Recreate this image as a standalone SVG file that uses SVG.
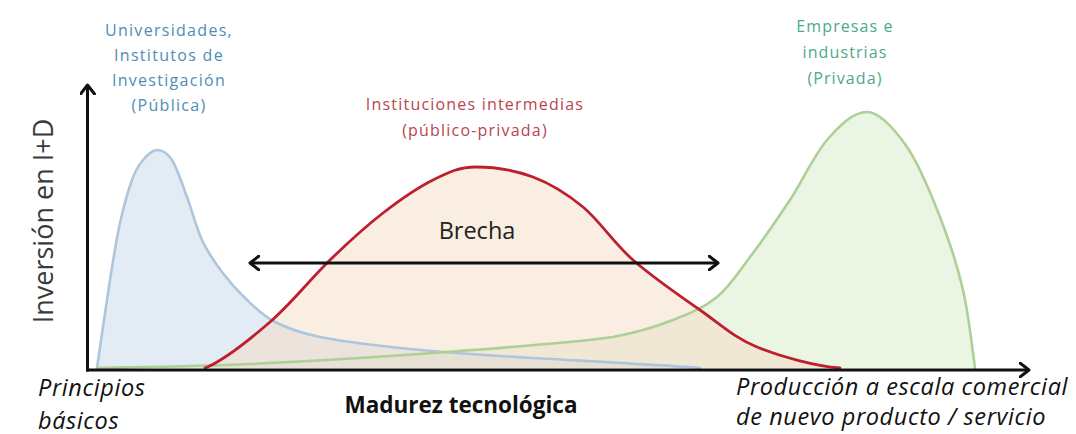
<svg xmlns="http://www.w3.org/2000/svg" width="1076" height="434" viewBox="0 0 1076 434">
  <style>
    .lblBlue { font-family: "Open Sans", "Liberation Sans", sans-serif; font-size: 16px; fill: #4f8db3; text-anchor: middle; letter-spacing: 1.3px; }
    .lblRed { font-family: "Open Sans", "Liberation Sans", sans-serif; font-size: 16px; fill: #b8454f; text-anchor: middle; letter-spacing: 1.2px; }
    .lblGreen { font-family: "Open Sans", "Liberation Sans", sans-serif; font-size: 16px; fill: #4ea98a; text-anchor: middle; letter-spacing: 1.1px; }
    .ital { font-family: "Open Sans", "Liberation Sans", sans-serif; font-size: 23.5px; font-style: italic; fill: #111; letter-spacing: 0.6px; }
    .axis { stroke: #111; stroke-width: 3; fill: none; }
    .arrow { stroke: #111; stroke-width: 3; fill: none; }
  </style>
  <defs>
    <marker id="chev" viewBox="0 0 12 16" refX="10" refY="8" markerWidth="12" markerHeight="16" markerUnits="userSpaceOnUse" orient="auto-start-reverse">
      <path d="M1,1 L10,8 L1,15" fill="none" stroke="#111" stroke-width="3" stroke-linecap="round" stroke-linejoin="round"/>
    </marker>
  </defs>
  <rect width="1076" height="434" fill="#ffffff"/>

  <g id="curve-green">
    <path d="M97,368 C122.5,367.3 191.7,366.7 250,364 C308.3,361.3 386.5,356.5 447,352 C507.5,347.5 575.3,342.3 613,337 C640,332 655.7,326.7 673,320 C690.3,313.3 704.2,307.5 717,297 C729.8,286.5 737.8,273.2 750,257 C762.2,240.8 777.2,219.5 790,200 C802.8,180.5 814.2,154.7 827,140 C839.8,125.3 853,112 867,112 C880,112 894.8,129.5 907,147 C919.2,164.5 930.7,193.2 940,217 C949.3,240.8 957.2,265 963,290 C968.8,315 973,354.2 975,368 Z" fill="#d6ebc9" fill-opacity="0.5" stroke="none"/>
  </g>
  <g id="curve-blue">
    <path d="M97,368 C99.2,353.3 106.2,304.2 110,280 C113.8,255.8 116.3,239.7 120,223 C123.7,206.3 128.2,190.5 132,180 C135.8,169.5 138.8,165 143,160 C147.2,155 152.2,150 157,150 C162,150 167,152.2 172,160 C177,167.8 182,183.7 187,197 C192,210.3 196.2,227.5 202,240 C207.8,252.5 214.5,262 222,272 C229.5,282 238.2,291.7 247,300 C255.8,308.3 262.8,315.8 275,322 C287.2,328.2 299.2,332.7 320,337 C340.8,341.3 370,344.8 400,348 C430,351.2 450,352.8 500,356 C550,359.2 666.7,365.2 700,368 Z" fill="#c8d8ea" fill-opacity="0.5" stroke="none"/>
  </g>
  <g id="curve-red">
    <path d="M205,368 C225,360 249.2,340 270,322 C290.8,304 311.2,278.2 330,260 C348.8,241.8 365.8,226.3 383,213 C400.2,199.7 417.5,187.7 433,180 C448.5,172.3 459,167 476,167 C493,167 515.2,170.3 533,177 C550.8,183.7 566.3,193.2 583,207 C599.7,220.8 613.5,242.8 633,260 C652.5,277.2 679.3,295.5 700,310 C720.7,324.5 733.7,337.5 757,347 C780.3,356.5 815,366 840,368 Z" fill="#f6dcc4" fill-opacity="0.5" stroke="none"/>
  </g>
  <g id="curve-strokes" fill="none" stroke-width="2.6" stroke-linecap="round">
    <path d="M97,368 C99.2,353.3 106.2,304.2 110,280 C113.8,255.8 116.3,239.7 120,223 C123.7,206.3 128.2,190.5 132,180 C135.8,169.5 138.8,165 143,160 C147.2,155 152.2,150 157,150 C162,150 167,152.2 172,160 C177,167.8 182,183.7 187,197 C192,210.3 196.2,227.5 202,240 C207.8,252.5 214.5,262 222,272 C229.5,282 238.2,291.7 247,300 C255.8,308.3 262.8,315.8 275,322 C287.2,328.2 299.2,332.7 320,337 C340.8,341.3 370,344.8 400,348 C430,351.2 450,352.8 500,356 C550,359.2 666.7,365.2 700,368" stroke="#aec6dc"/>
    <path d="M97,368 C122.5,367.3 191.7,366.7 250,364 C308.3,361.3 386.5,356.5 447,352 C507.5,347.5 575.3,342.3 613,337 C640,332 655.7,326.7 673,320 C690.3,313.3 704.2,307.5 717,297 C729.8,286.5 737.8,273.2 750,257 C762.2,240.8 777.2,219.5 790,200 C802.8,180.5 814.2,154.7 827,140 C839.8,125.3 853,112 867,112 C880,112 894.8,129.5 907,147 C919.2,164.5 930.7,193.2 940,217 C949.3,240.8 957.2,265 963,290 C968.8,315 973,354.2 975,368" stroke="#acd096"/>
    <path d="M205,368 C225,360 249.2,340 270,322 C290.8,304 311.2,278.2 330,260 C348.8,241.8 365.8,226.3 383,213 C400.2,199.7 417.5,187.7 433,180 C448.5,172.3 459,167 476,167 C493,167 515.2,170.3 533,177 C550.8,183.7 566.3,193.2 583,207 C599.7,220.8 613.5,242.8 633,260 C652.5,277.2 679.3,295.5 700,310 C720.7,324.5 733.7,337.5 757,347 C780.3,356.5 815,366 840,368" stroke="#bd1f2d" stroke-width="2.8"/>
  </g>

  <g id="connectors">
    <line class="axis" x1="87.5" y1="371.5" x2="87.5" y2="85" marker-end="url(#chev)"/>
    <line class="axis" x1="86" y1="370" x2="1029" y2="370" marker-end="url(#chev)"/>
    <line class="arrow" x1="250" y1="263" x2="718" y2="263" marker-start="url(#chev)" marker-end="url(#chev)"/>
  </g>

  <g id="label-publica">
    <text class="lblBlue" x="169" y="36">Universidades,</text>
    <text class="lblBlue" x="169" y="61">Institutos de</text>
    <text class="lblBlue" x="169" y="86">Investigación</text>
    <text class="lblBlue" x="169" y="111">(Pública)</text>
  </g>
  <g id="label-intermedias">
    <text class="lblRed" x="475" y="110">Instituciones intermedias</text>
    <text class="lblRed" x="475" y="136">(público-privada)</text>
  </g>
  <g id="label-privada">
    <text class="lblGreen" x="845" y="32">Empresas e</text>
    <text class="lblGreen" x="845" y="58">industrias</text>
    <text class="lblGreen" x="845" y="84">(Privada)</text>
  </g>
  <g id="label-brecha">
    <text x="477" y="239" font-family="'Open Sans', 'Liberation Sans', sans-serif" font-size="23.5" fill="#222" text-anchor="middle">Brecha</text>
  </g>
  <g id="label-yaxis">
    <text transform="translate(53,221) rotate(-90)" font-family="'Open Sans', 'Liberation Sans', sans-serif" font-size="27" fill="#3a3a3a" text-anchor="middle">Inversión en I+D</text>
  </g>
  <g id="label-principios">
    <text class="ital" x="38" y="396">Principios</text>
    <text class="ital" x="38" y="429">básicos</text>
  </g>
  <g id="label-madurez">
    <text x="461" y="413" font-family="'Open Sans', 'Liberation Sans', sans-serif" font-size="22.5" font-weight="bold" fill="#111" text-anchor="middle">Madurez tecnológica</text>
  </g>
  <g id="label-produccion">
    <text class="ital" x="736" y="395">Producción a escala comercial</text>
    <text class="ital" x="736" y="425">de nuevo producto / servicio</text>
  </g>
</svg>
